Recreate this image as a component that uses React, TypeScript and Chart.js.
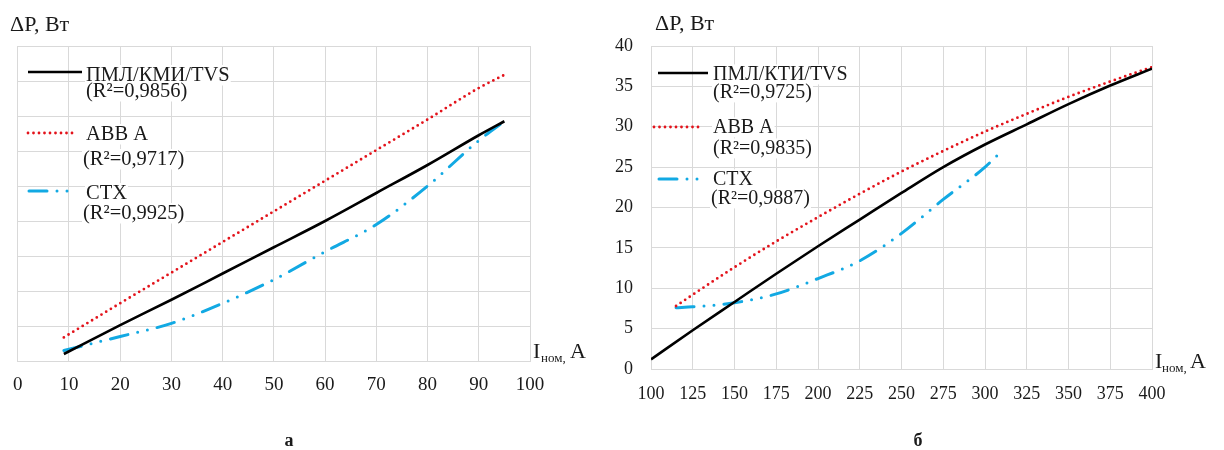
import React, { useEffect, useRef } from 'react';
import { Chart, registerables } from 'chart.js';

Chart.register(...registerables);

// ---------- DATA ----------
// Panel "а"
const leftCurrent = [9, 20, 30, 40, 50, 60, 70, 80, 90, 95];
const leftPml = [0.4, 2.05, 3.5, 5.0, 6.5, 8.0, 9.6, 11.2, 12.9, 13.7];
const leftAbb = [1.35, 3.3, 5.05, 6.8, 8.55, 10.3, 12.05, 13.8, 15.6, 16.35];
const leftCtx = [0.6, 1.4, 2.15, 3.3, 4.65, 6.25, 7.8, 10.0, 12.6, 13.7];
const leftXTicks = [0, 100, 10];
const leftYTicks = [0, 18, 2];

// Panel "б"
const rightPmlCurrent = [100, 125, 150, 175, 200, 225, 250, 275, 300, 325, 350, 375, 400];
const rightPml = [1.2, 4.8, 8.3, 11.8, 15.2, 18.5, 21.8, 25.0, 27.8, 30.3, 32.8, 35.1, 37.2];
const rightAbbCurrent = [115, 125, 150, 175, 200, 225, 250, 275, 300, 325, 350, 375, 400];
const rightAbb = [7.8, 9.2, 12.6, 15.8, 18.8, 21.7, 24.45, 27.0, 29.4, 31.6, 33.7, 35.6, 37.4];
const rightCtxCurrent = [115, 125, 150, 175, 200, 225, 250, 275, 300, 310];
const rightCtx = [7.6, 7.7, 8.2, 9.3, 11.2, 13.4, 16.8, 21.0, 25.0, 27.0];
const rightXTicks = [100, 400, 25];
const rightYTicks = [0, 40, 5];

const leftNames = ['ПМЛ/КМИ/TVS', 'ABB A', 'CTX'];
const leftR2 = ['(R²=0,9856)', '(R²=0,9717)', '(R²=0,9925)'];
const rightNames = ['ПМЛ/КТИ/TVS', 'ABB A', 'CTX'];
const rightR2 = ['(R²=0,9725)', '(R²=0,9835)', '(R²=0,9887)'];

const yTitle = 'ΔP, Вт';
const captions = ['а', 'б'];

// ---------- STYLE ----------
const FONT = '"Liberation Serif", "Times New Roman", serif';
const GRID = '#d9d9d9';
const TEXT = '#1a1a1a';

type LineStyle = { color: string; width: number; dash: number[]; cap: CanvasLineCap };
const STYLES: LineStyle[] = [
  { color: '#000000', width: 2.6, dash: [], cap: 'butt' },
  { color: '#E3131B', width: 2.8, dash: [0, 5.5], cap: 'round' },
  { color: '#12A9E3', width: 3, dash: [18, 10, 0, 10, 0, 10], cap: 'round' },
];

const toPoints = (xs: number[], ys: number[]) => xs.map((x, i) => ({ x, y: ys[i] }));

function makeDataset(label: string, xs: number[], ys: number[], s: LineStyle) {
  return {
    label,
    data: toPoints(xs, ys),
    borderColor: s.color,
    backgroundColor: s.color,
    borderWidth: s.width,
    borderDash: s.dash,
    borderCapStyle: s.cap,
    borderJoinStyle: 'round' as CanvasLineJoin,
    pointRadius: 0,
    fill: false,
    cubicInterpolationMode: 'monotone' as const,
  };
}

type TextRow = { t: string; x: number; y: number };
type LegendEntry = { style: number; sx1: number; sx2: number; sy: number; rows: TextRow[] };
type PanelLayout = {
  id: string;
  titleX: number;
  titleY: number;
  xTitle: { ix: number; sx: number; ax: number; y: number };
  caption: { x: number; y: number; t: string };
  legend: LegendEntry[];
  legendSize: number;
};

function textPlugin(p: PanelLayout) {
  return {
    id: 'texts_' + p.id,
    afterDraw(chart: any) {
      const ctx: CanvasRenderingContext2D = chart.ctx;
      ctx.save();
      ctx.textBaseline = 'alphabetic';
      ctx.textAlign = 'left';
      // y title
      ctx.fillStyle = TEXT;
      ctx.font = `22px ${FONT}`;
      ctx.fillText(yTitle, p.titleX, p.titleY);
      // x title I ном, А
      ctx.font = `22px ${FONT}`;
      ctx.fillText('I', p.xTitle.ix, p.xTitle.y);
      ctx.font = `13px ${FONT}`;
      ctx.fillText('ном,', p.xTitle.sx, p.xTitle.y + 4);
      ctx.font = `22px ${FONT}`;
      ctx.fillText('А', p.xTitle.ax, p.xTitle.y);
      // caption
      ctx.font = `bold 18px ${FONT}`;
      ctx.textAlign = 'center';
      ctx.fillText(p.caption.t, p.caption.x, p.caption.y);
      ctx.textAlign = 'left';
      // legend
      for (const e of p.legend) {
        ctx.font = `${p.legendSize}px ${FONT}`;
        for (const r of e.rows) {
          const w = ctx.measureText(r.t).width;
          ctx.fillStyle = '#ffffff';
          ctx.fillRect(r.x - 1, r.y - p.legendSize * 0.78, w + 2, p.legendSize * 1.0);
        }
        const s = STYLES[e.style];
        ctx.beginPath();
        ctx.strokeStyle = s.color;
        ctx.lineWidth = s.width;
        ctx.lineCap = s.cap;
        ctx.setLineDash(s.dash);
        ctx.moveTo(e.sx1, e.sy);
        ctx.lineTo(e.sx2, e.sy);
        ctx.stroke();
        ctx.setLineDash([]);
        ctx.fillStyle = TEXT;
        for (const r of e.rows) ctx.fillText(r.t, r.x, r.y);
      }
      ctx.restore();
    },
  };
}

function makeConfig(
  datasets: any[],
  xt: number[],
  yt: number[],
  showY: boolean,
  geom: { yWidth: number; xHeight: number; right: number; top: number; tickSize: number; xPad: number; yPad: number },
  layout: PanelLayout
): any {
  return {
    type: 'line',
    data: { datasets },
    options: {
      animation: false,
      responsive: false,
      maintainAspectRatio: false,
      layout: { padding: { left: 0, right: geom.right, top: geom.top, bottom: 0 } },
      plugins: { legend: { display: false }, tooltip: { enabled: false } },
      elements: { point: { radius: 0 } },
      scales: {
        x: {
          type: 'linear',
          min: xt[0],
          max: xt[1],
          ticks: { stepSize: xt[2], color: TEXT, font: { family: FONT, size: geom.tickSize }, padding: geom.xPad, maxRotation: 0 },
          grid: { color: GRID, drawTicks: false, lineWidth: 1 },
          border: { color: GRID },
          afterFit: (s: any) => { s.height = geom.xHeight; },
        },
        y: {
          type: 'linear',
          min: yt[0],
          max: yt[1],
          ticks: { stepSize: yt[2], display: showY, color: TEXT, font: { family: FONT, size: geom.tickSize }, padding: geom.yPad },
          grid: { color: GRID, drawTicks: false, lineWidth: 1 },
          border: { color: GRID },
          afterFit: (s: any) => { s.width = geom.yWidth; },
        },
      },
    },
    plugins: [textPlugin(layout)],
  };
}

const leftLayout: PanelLayout = {
  id: 'a',
  titleX: 10,
  titleY: 31,
  xTitle: { ix: 533, sx: 541, ax: 570, y: 358 },
  caption: { x: 289, y: 446, t: captions[0] },
  legendSize: 20.5,
  legend: [
    { style: 0, sx1: 28, sx2: 82, sy: 72, rows: [{ t: leftNames[0], x: 86, y: 81 }, { t: leftR2[0], x: 86, y: 97 }] },
    { style: 1, sx1: 28, sx2: 77, sy: 133, rows: [{ t: leftNames[1], x: 86, y: 140 }, { t: leftR2[1], x: 83, y: 165 }] },
    { style: 2, sx1: 29, sx2: 75, sy: 191, rows: [{ t: leftNames[2], x: 86, y: 199 }, { t: leftR2[2], x: 83, y: 219 }] },
  ],
};

const rightLayout: PanelLayout = {
  id: 'b',
  titleX: 43,
  titleY: 30,
  xTitle: { ix: 543, sx: 550, ax: 578, y: 368 },
  caption: { x: 306, y: 446, t: captions[1] },
  legendSize: 20,
  legend: [
    { style: 0, sx1: 46, sx2: 96, sy: 73, rows: [{ t: rightNames[0], x: 101, y: 80 }, { t: rightR2[0], x: 101, y: 98 }] },
    { style: 1, sx1: 42, sx2: 91, sy: 127, rows: [{ t: rightNames[1], x: 101, y: 133 }, { t: rightR2[1], x: 101, y: 154 }] },
    { style: 2, sx1: 47, sx2: 90, sy: 179, rows: [{ t: rightNames[2], x: 101, y: 185 }, { t: rightR2[2], x: 99, y: 204 }] },
  ],
};

function Panel({ makeCfg, left }: { makeCfg: () => any; left: number }) {
  const ref = useRef<HTMLCanvasElement>(null);
  useEffect(() => {
    const chart = new Chart(ref.current as HTMLCanvasElement, makeCfg());
    return () => chart.destroy();
  }, []);
  return (
    <canvas
      ref={ref}
      width={612}
      height={450}
      style={{ position: 'absolute', left, top: 0, width: 612, height: 450 }}
    />
  );
}

export default function App() {
  const leftCfg = () =>
    makeConfig(
      [
        makeDataset(leftNames[0], leftCurrent, leftPml, STYLES[0]),
        makeDataset(leftNames[1], leftCurrent, leftAbb, STYLES[1]),
        makeDataset(leftNames[2], leftCurrent, leftCtx, STYLES[2]),
      ],
      leftXTicks,
      leftYTicks,
      false,
      { yWidth: 16, xHeight: 89, right: 82, top: 46, tickSize: 19, xPad: 13, yPad: 10 },
      leftLayout
    );
  const rightCfg = () =>
    makeConfig(
      [
        makeDataset(rightNames[0], rightPmlCurrent, rightPml, STYLES[0]),
        makeDataset(rightNames[1], rightAbbCurrent, rightAbb, STYLES[1]),
        makeDataset(rightNames[2], rightCtxCurrent, rightCtx, STYLES[2]),
      ],
      rightXTicks,
      rightYTicks,
      true,
      { yWidth: 39, xHeight: 81, right: 72, top: 46, tickSize: 18, xPad: 14, yPad: 18 },
      rightLayout
    );
  return (
    <div style={{ position: 'absolute', left: 0, top: 0, width: 1224, height: 450, background: '#fff' }}>
      <Panel makeCfg={leftCfg} left={0} />
      <Panel makeCfg={rightCfg} left={612} />
    </div>
  );
}
